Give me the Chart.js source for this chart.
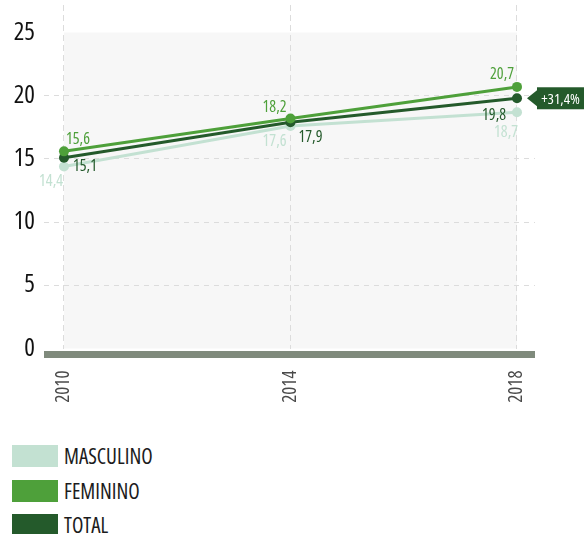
<!DOCTYPE html>
<html>
<head>
<meta charset="utf-8">
<script src="https://cdn.jsdelivr.net/npm/chart.js@4.4.1/dist/chart.umd.min.js"></script>
<style>
  body { margin: 0; background: #fff; }
  #wrap { position: relative; width: 587px; height: 534px; overflow: hidden; }
  #grafic { position: absolute; left: 0; top: 0; }
  .llegenda { position: absolute; left: 12px; height: 22px; display: flex; align-items: center;
    font-family: "Open Sans", sans-serif; font-stretch: 75%;
    font-size: 21px; color: #1c1c1c; white-space: nowrap; }
  .llegenda span.caixa { display: inline-block; width: 46px; height: 22px; margin-right: 6px; }
</style>
</head>
<body>
<div id="wrap">
  <canvas id="grafic" width="587" height="410"></canvas>
  <div id="llegendes"></div>
</div>
<script>
// dades del gràfic
const anys = [2010, 2014, 2018];
const valorsMasculino = [14.4, 17.6, 18.7];
const valorsFeminino = [15.6, 18.2, 20.7];
const valorsTotal = [15.1, 17.9, 19.8];
const ticksY = [0, 5, 10, 15, 20, 25];
const nomsSeries = ['MASCULINO', 'FEMININO', 'TOTAL'];
const textVariacio = '+31,4%';

const colors = ['#c3e1d2', '#4ea03a', '#245a2b'];
const familia = '"Open Sans", sans-serif';
const estret = 'condensed ';   // Open Sans variable, amplada 75%

// on va cada etiqueta respecte del seu punt (alineació, dx, dy de la línia base)
const posEtiquetes = [
  [['right', -1, 19], ['right', -4, 20], ['right', 1, 25]],   // masculino
  [['left', 2, -7], ['right', -4, -6], ['right', -3, -8]],    // feminino
  [['left', 9, 13], ['left', 8, 20], ['right', -11, 22]]      // total
];

// fons gris clar entre 2010 i 2018
const fonsPla = {
  id: 'fonsPla',
  beforeDraw(chart) {
    const { ctx, scales: { x, y } } = chart;
    const x0 = x.getPixelForValue(anys[0]);
    const x1 = x.getPixelForValue(anys[anys.length - 1]);
    const y0 = y.getPixelForValue(ticksY[ticksY.length - 1]);
    const y1 = y.getPixelForValue(0);
    ctx.save();
    ctx.fillStyle = '#f7f7f7';
    ctx.fillRect(x0, y0, x1 - x0, y1 - y0);
    ctx.restore();
  }
};

// barra gruixuda de l'eix zero
const barraZero = {
  id: 'barraZero',
  afterDatasetsDraw(chart) {
    const { ctx, chartArea } = chart;
    const yz = chart.scales.y.getPixelForValue(0);
    ctx.save();
    ctx.fillStyle = '#7f8a7c';
    ctx.fillRect(chartArea.left, yz + 2.5, chartArea.right - chartArea.left, 7);
    ctx.restore();
  }
};

// valors al costat dels punts + etiqueta de variació
const etiquetes = {
  id: 'etiquetes',
  afterDraw(chart) {
    const ctx = chart.ctx;
    ctx.save();
    ctx.font = estret + '16px ' + familia;
    ctx.textBaseline = 'alphabetic';
    chart.data.datasets.forEach((ds, i) => {
      const meta = chart.getDatasetMeta(i);
      meta.data.forEach((pt, j) => {
        const p = posEtiquetes[i][j];
        ctx.fillStyle = ds.borderColor;
        ctx.textAlign = p[0];
        ctx.fillText(ds.data[j].y.toFixed(1).replace('.', ','), pt.x + p[1], pt.y + p[2]);
      });
    });

    // fletxa amb la variació del total
    const ultim = chart.getDatasetMeta(2).data[anys.length - 1];
    const bx = ultim.x + 20, by = ultim.y;
    ctx.fillStyle = colors[2];
    ctx.beginPath();
    ctx.moveTo(ultim.x + 10, by);
    ctx.lineTo(bx, by - 8);
    ctx.lineTo(bx, by + 8);
    ctx.closePath();
    ctx.fill();
    ctx.fillRect(bx, by - 11, 47, 22);
    ctx.fillStyle = '#ffffff';
    ctx.font = estret + '15px ' + familia;
    ctx.textAlign = 'center';
    ctx.textBaseline = 'middle';
    ctx.fillText(textVariacio, bx + 23.5, by + 1);
    ctx.restore();
  }
};

function serie(nom, valors, color, ordre) {
  return {
    label: nom,
    data: valors.map((v, k) => ({ x: anys[k], y: v })),
    borderColor: color,
    backgroundColor: color,
    pointBackgroundColor: color,
    pointBorderWidth: 0,
    pointRadius: 5,
    pointHoverRadius: 5,
    borderWidth: 3,
    tension: 0,
    order: ordre
  };
}

function sensePadding(s) {
  s.paddingTop = 0; s.paddingBottom = 0; s.paddingLeft = 0; s.paddingRight = 0;
}

new Chart(document.getElementById('grafic').getContext('2d'), {
  type: 'line',
  data: {
    datasets: [
      serie(nomsSeries[0], valorsMasculino, colors[0], 2),
      serie(nomsSeries[1], valorsFeminino, colors[1], 0),
      serie(nomsSeries[2], valorsTotal, colors[2], 1)
    ]
  },
  options: {
    responsive: false,
    animation: false,
    layout: { padding: { left: 0, right: 52, top: 0, bottom: 0 } },
    plugins: { legend: { display: false }, tooltip: { enabled: false } },
    scales: {
      x: {
        type: 'linear',
        min: 2009.647,
        max: 2018.318,
        afterBuildTicks: s => { s.ticks = anys.map(a => ({ value: a })); },
        afterFit: s => { s.height = 61.5; sensePadding(s); },
        border: { display: false, dash: [6, 4] },
        grid: { color: '#dcdcdc', lineWidth: 1, drawTicks: false },
        ticks: {
          minRotation: 90,
          maxRotation: 90,
          padding: 22,
          color: '#4a4a4a',
          font: { family: familia, weight: 'condensed', size: 19 },
          callback: v => String(v)
        }
      },
      y: {
        min: 0,
        max: 27.18,
        afterBuildTicks: s => { s.ticks = ticksY.map(v => ({ value: v })); },
        afterFit: s => { s.width = 44; sensePadding(s); },
        border: { display: false, dash: [5, 5] },
        grid: {
          color: c => (c.tick && (c.tick.value === 25 || c.tick.value === 0)) ? 'rgba(0,0,0,0)' : '#dcdcdc',
          lineWidth: 1,
          drawTicks: false
        },
        ticks: {
          padding: 9,
          color: '#111111',
          font: { family: familia, weight: 'condensed', size: 25 },
          callback: v => String(v)
        }
      }
    }
  },
  plugins: [fonsPla, barraZero, etiquetes]
});

// llegenda en columna
const llegendes = document.getElementById('llegendes');
nomsSeries.forEach((nom, i) => {
  const fila = document.createElement('div');
  fila.className = 'llegenda';
  fila.style.top = (445 + i * 34.5) + 'px';
  fila.innerHTML = '<span class="caixa" style="background:' + colors[i] + '"></span><span>' + nom + '</span>';
  llegendes.appendChild(fila);
});
</script>
</body>
</html>
